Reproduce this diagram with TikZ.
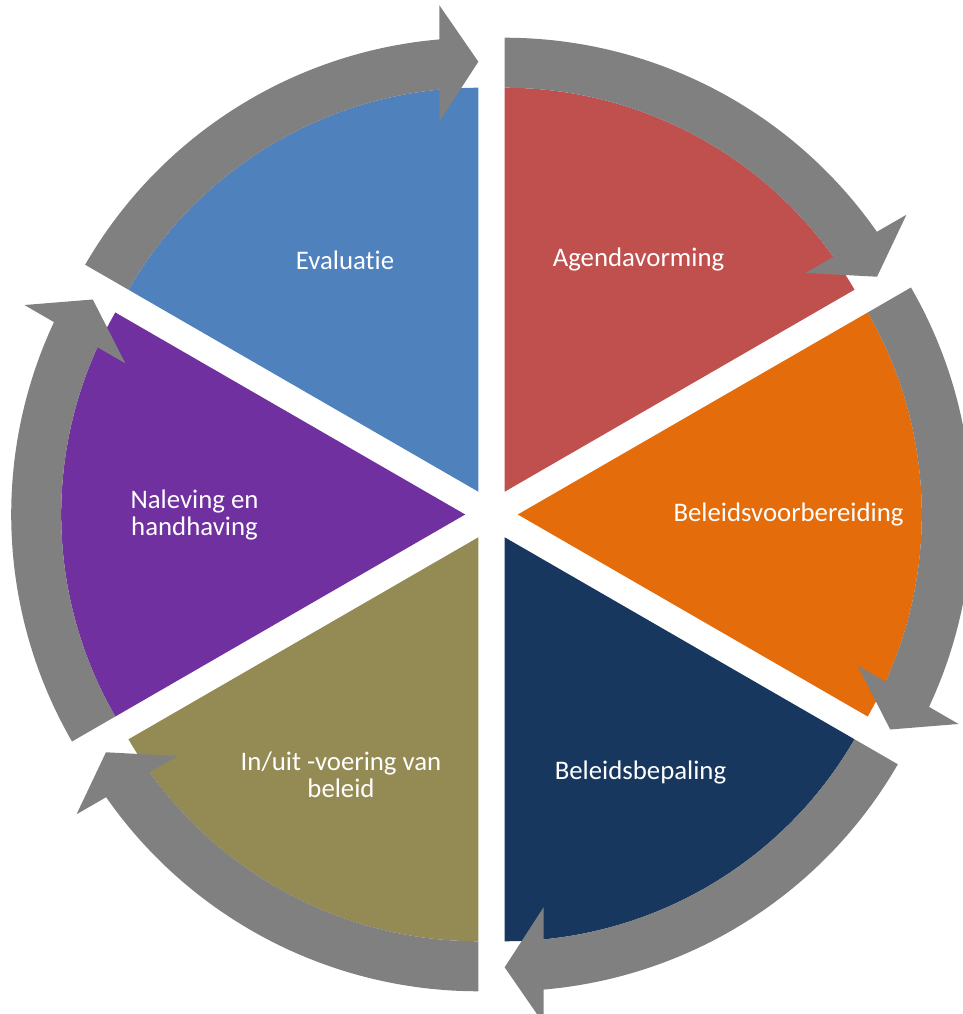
\documentclass[tikz,border=0pt]{standalone}
\usepackage{fontspec}
\setmainfont{Carlito}[Ligatures=NoCommon]
\definecolor{agendared}{HTML}{C0504D}
\definecolor{prepareorange}{HTML}{E46C0A}
\definecolor{decidenavy}{HTML}{17375E}
\definecolor{executeolive}{HTML}{948A54}
\definecolor{enforcepurple}{HTML}{7030A0}
\definecolor{evalblue}{HTML}{4F81BD}
\colorlet{arrowgrey}{black!50}
\tikzset{
  phase/.style = {text=white, align=center, font=\fontsize{26.8}{27}\selectfont},
  cyclearrow/.style = {fill=arrowgrey}
}

\begin{document}
\begin{tikzpicture}[x=1pt,y=1pt]
  \useasboundingbox (-491.5,-499.5) rectangle (471.5,514.5);
  \foreach \mid/\col in {60/agendared,0/prepareorange,-60/decidenavy,
                         -120/executeolive,180/enforcepurple,120/evalblue}{
    \begin{scope}[shift={(\mid:26.3)}]
      \fill[\col] (0,0) -- (\mid+30:404)
        arc[start angle=\mid+30, end angle=\mid-30, radius=404] -- cycle;
      \fill[cyclearrow] (\mid+30:454)
        arc[start angle=\mid+30, end angle=\mid-25.07, radius=454]
        -- (\mid-25.42:488) -- (\mid-30:430) -- (\mid-23.98:372)
        -- (\mid-24.46:404)
        arc[start angle=\mid-24.46, end angle=\mid+30, radius=404] -- cycle;
    \end{scope}
  }
  \node[phase] (agenda)        at (60:294)   {Agendavorming};
  \node[phase] (voorbereiding) at (0:297)    {Beleidsvoorbereiding};
  \node[phase] (bepaling)      at (-60:298)  {Beleidsbepaling};
  \node[phase] (uitvoering)    at (-120:301) {In/uit -voering van\\beleid};
  \node[phase] (naleving)      at (180:297)  {Naleving en\\handhaving};
  \node[phase] (evaluatie)     at (120:293)  {Evaluatie};
\end{tikzpicture}
\end{document}
